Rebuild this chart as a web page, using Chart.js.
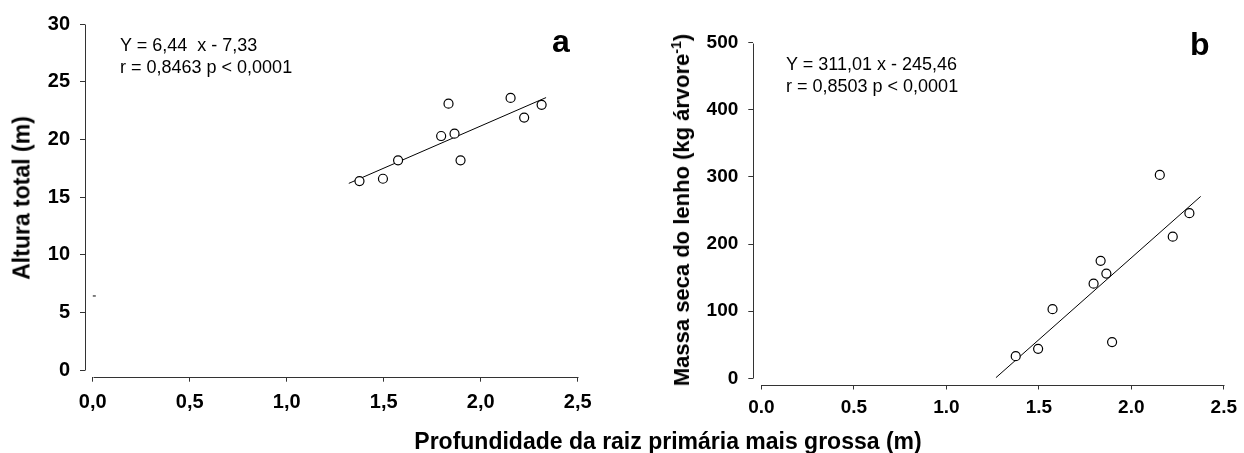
<!DOCTYPE html>
<html>
<head>
<meta charset="utf-8">
<script src="https://cdn.jsdelivr.net/npm/chart.js@4.4.0/dist/chart.umd.min.js"></script>
<style>
  html, body { margin: 0; padding: 0; background: #fff; }
  #wrap { position: relative; width: 1244px; height: 453px; overflow: hidden;
          font-family: 'Liberation Sans', Arial, sans-serif; color: #000; }
  canvas { position: absolute; top: 0; }
  #chartA { left: 0; }
  #chartB { left: 620px; }
  .txt { position: absolute; white-space: nowrap; z-index: 2; }
  .eq { font-size: 18px; line-height: 22px; }
  .tag { font-size: 32px; font-weight: bold; line-height: 32px; }
  .ytitle { font-size: 22px; font-weight: bold; line-height: 1; transform: translate(-50%, -50%) rotate(-90deg); }
  .xtitle { font-size: 23px; font-weight: bold; line-height: 1; transform: translate(-50%, -50%); }
  sup { font-size: 14px; line-height: 0; vertical-align: 8px; }
</style>
</head>
<body>
<div id="wrap">
  <canvas id="chartA" width="620" height="453"></canvas>
  <canvas id="chartB" width="624" height="453"></canvas>

  <div class="txt eq" style="left:120px; top:34px;">Y = 6,44&nbsp; x - 7,33<br>r = 0,8463 p &lt; 0,0001</div>
  <div class="txt eq" style="left:786px; top:53px;">Y = 311,01 x - 245,46<br>r = 0,8503 p &lt; 0,0001</div>
  <div class="txt tag" style="left:552px; top:25px;">a</div>
  <div class="txt tag" style="left:1190px; top:28px;">b</div>

  <div class="txt ytitle" style="left:22px; top:198px; font-size:23px;">Altura total (m)</div>
  <div class="txt ytitle" style="left:682px; top:210px;">Massa seca do lenho (kg árvore<sup>-1</sup>)</div>
  <div class="txt xtitle" style="left:668px; top:441px;">Profundidade da raiz primária mais grossa (m)</div>
</div>

<script>
// --- DATA ---
// depth of the thickest primary root (m), one value per tree
const depth = [1.375, 1.496, 1.574, 1.796, 1.834, 1.865, 1.896, 2.154, 2.224, 2.314];
// total height (m)
const treeHeight = [16.4, 16.6, 18.2, 20.3, 23.1, 20.5, 18.2, 23.6, 21.9, 23.0];
// dry wood mass (kg per tree)
const woodMass = [33, 44, 103, 141, 175, 156, 54, 303, 211, 246];

// fitted lines, end points as drawn
const heightFitX = [1.32, 2.337];
const heightFitY = [16.2, 23.63];
const massFitX = [1.268, 2.375];
const massFitY = [1, 271];

// small stray mark near the y axis of panel a
const markX = [0.008];
const markY = [6.45];

const xTicks = [0, 0.5, 1, 1.5, 2, 2.5];
const heightTicks = [0, 5, 10, 15, 20, 25, 30];
const massTicks = [0, 100, 200, 300, 400, 500];

// --- HELPERS ---
Chart.defaults.font.family = "'Liberation Sans', Arial, sans-serif";
Chart.defaults.color = '#000';

const pairs = (xs, ys) => xs.map((x, i) => ({ x: x, y: ys[i] }));

// axis lines stop at the first and last tick, like the offset axes of the original plots
const axisLines = {
  id: 'axisLines',
  afterDraw(chart) {
    const { ctx, chartArea, scales: { x, y } } = chart;
    const xt = x.ticks.map(t => t.value);
    const yt = y.ticks.map(t => t.value);
    const lx = Math.round(chartArea.left) + 0.5;
    const by = Math.round(chartArea.bottom) + 0.5;
    ctx.save();
    ctx.strokeStyle = '#333';
    ctx.lineWidth = 1;
    ctx.beginPath();
    ctx.moveTo(lx, Math.round(y.getPixelForValue(Math.max(...yt))) + 0.5);
    ctx.lineTo(lx, Math.round(y.getPixelForValue(Math.min(...yt))) + 0.5);
    ctx.moveTo(Math.round(x.getPixelForValue(Math.min(...xt))) + 0.5, by);
    ctx.lineTo(Math.round(x.getPixelForValue(Math.max(...xt))) + 0.5, by);
    ctx.stroke();
    ctx.restore();
  }
};

function makeChart(id, cfg) {
  return new Chart(document.getElementById(id), {
    type: 'scatter',
    data: {
      datasets: [
        {
          data: cfg.points,
          pointRadius: 4.5,
          pointBorderWidth: 1.2,
          pointBackgroundColor: '#fff',
          pointBorderColor: '#000',
          showLine: false
        },
        {
          data: cfg.fit,
          showLine: true,
          borderColor: '#000',
          borderWidth: 1,
          pointRadius: 0
        },
        {
          data: cfg.extra || [],
          pointStyle: 'line',
          pointRadius: 1.5,
          pointBorderWidth: 1,
          pointBorderColor: '#000',
          showLine: false
        }
      ]
    },
    options: {
      responsive: false,
      animation: false,
      events: [],
      layout: { padding: cfg.padding },
      plugins: { legend: { display: false }, tooltip: { enabled: false } },
      scales: {
        x: {
          type: 'linear',
          min: cfg.xMin,
          max: 2.5,
          afterBuildTicks: s => { s.ticks = xTicks.map(v => ({ value: v })); },
          afterFit: s => { s.height = cfg.xHeight; },
          ticks: {
            autoSkip: false,
            maxRotation: 0,
            padding: cfg.xPad,
            font: { size: cfg.xFont, weight: 'bold' },
            callback: cfg.xLabel
          },
          grid: { drawOnChartArea: false, drawTicks: true, tickLength: 5, color: '#333' },
          border: { display: false }
        },
        y: {
          type: 'linear',
          min: cfg.yMin,
          max: cfg.yMax,
          afterBuildTicks: s => { s.ticks = cfg.yTicks.map(v => ({ value: v })); },
          afterFit: s => { s.width = cfg.yWidth; },
          ticks: {
            autoSkip: false,
            padding: 10,
            font: { size: cfg.yFont, weight: 'bold' },
            callback: v => String(v)
          },
          grid: { drawOnChartArea: false, drawTicks: true, tickLength: 5, color: '#333' },
          border: { display: false }
        }
      }
    },
    plugins: [axisLines]
  });
}

// panel a: total height
makeChart('chartA', {
  points: pairs(depth, treeHeight),
  fit: pairs(heightFitX, heightFitY),
  extra: pairs(markX, markY),
  xMin: -0.04, yMin: -0.54, yMax: 30,
  yTicks: heightTicks,
  padding: { top: 24, right: 42.3, bottom: 0, left: 0 },
  xHeight: 76.3, yWidth: 85,
  xPad: 9, xFont: 20, yFont: 20,
  xLabel: v => v.toFixed(1).replace('.', ',')
});

// panel b: dry wood mass
makeChart('chartB', {
  points: pairs(depth, woodMass),
  fit: pairs(massFitX, massFitY),
  xMin: -0.044, yMin: -9.2, yMax: 500,
  yTicks: massTicks,
  padding: { top: 42.7, right: 15.7, bottom: 0, left: 0 },
  xHeight: 68.5, yWidth: 133.3,
  xPad: 7, xFont: 19, yFont: 19,
  xLabel: v => v.toFixed(1)
});
</script>
</body>
</html>
